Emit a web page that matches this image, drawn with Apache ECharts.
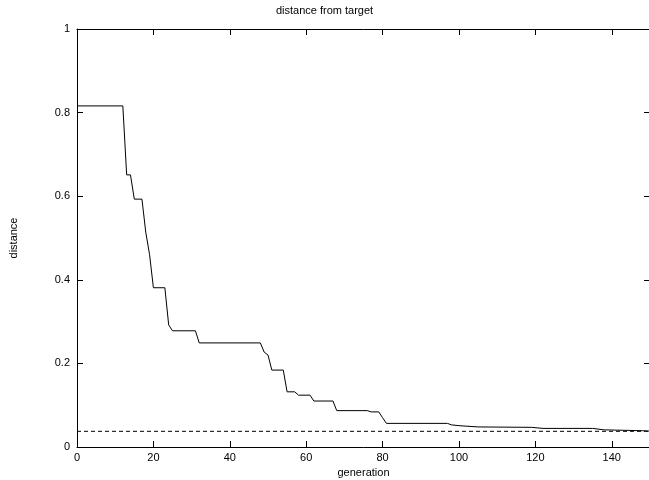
<!DOCTYPE html>
<html>
<head>
<meta charset="utf-8">
<script src="https://cdn.jsdelivr.net/npm/echarts@6/dist/echarts.min.js"></script>
<style>
  html, body { margin: 0; padding: 0; background: #fff; }
  #chart { width: 649px; height: 480px; }
</style>
</head>
<body>
<div id="chart"></div>
<script>
// best distance per generation (breakpoints of the run)
const generations = [0, 12, 13, 14, 15, 17, 18, 19, 20, 23, 24, 25, 31, 32, 48, 49, 50, 51, 54, 55, 57, 58, 61, 62, 67, 68, 76, 77, 79, 80, 81, 97, 98, 100, 105, 119, 122, 135, 138, 148, 150];
const distances   = [0.816, 0.816, 0.651, 0.651, 0.593, 0.593, 0.514, 0.46, 0.381, 0.381, 0.292, 0.278, 0.278, 0.249, 0.249, 0.227, 0.22, 0.184, 0.184, 0.132, 0.132, 0.124, 0.124, 0.11, 0.11, 0.087, 0.087, 0.084, 0.084, 0.07, 0.0565, 0.0565, 0.053, 0.051, 0.048, 0.047, 0.0445, 0.0445, 0.041, 0.039, 0.038];
// target threshold
const threshold = 0.0375;
const yTicks = [0, 0.2, 0.4, 0.6, 0.8, 1];

const font = 'Liberation Sans, Arial, Helvetica, sans-serif';
const black = '#000';

const mainLine = generations.map((g, i) => [g, distances[i]]);
const targetLine = [[0, threshold], [150, threshold]];

const tick = () => ({ show: true, inside: true, length: 6, lineStyle: { color: black, width: 1 } });
const line = () => ({ show: true, onZero: false, lineStyle: { color: black, width: 1 } });

const chart = echarts.init(document.getElementById('chart'), null, { renderer: 'canvas' });
chart.setOption({
  animation: false,
  backgroundColor: '#fff',
  title: {
    text: 'distance from target',
    left: 'center',
    top: 0,
    textStyle: { fontFamily: font, fontSize: 11, fontWeight: 'normal', color: black }
  },
  grid: { left: 77, top: 29, width: 573, height: 418, outerBoundsMode: 'none', containLabel: false },
  xAxis: [
    {
      type: 'value', min: 0, max: 150, interval: 20, position: 'bottom',
      name: 'generation', nameLocation: 'middle', nameGap: 17,
      nameTextStyle: { fontFamily: font, fontSize: 11, color: black },
      axisLine: line(),
      axisTick: tick(),
      axisLabel: { fontFamily: font, fontSize: 11, color: black, margin: 5, showMaxLabel: false },
      splitLine: { show: false }
    },
    {
      type: 'value', min: 0, max: 150, interval: 20, position: 'top',
      axisLine: line(),
      axisTick: tick(),
      axisLabel: { show: false },
      splitLine: { show: false }
    }
  ],
  yAxis: [
    {
      type: 'value', min: 0, max: 1, interval: 0.2, position: 'left',
      name: 'distance', nameLocation: 'middle', nameGap: 58, nameRotate: 90,
      nameTextStyle: { fontFamily: font, fontSize: 11, color: black },
      axisLine: line(),
      axisTick: tick(),
      axisLabel: { fontFamily: font, fontSize: 11, color: black, margin: 7,
                   formatter: v => yTicks.includes(+v.toFixed(1)) ? String(+v.toFixed(1)) : '' },
      splitLine: { show: false }
    },
    {
      type: 'value', min: 0, max: 1, interval: 0.2, position: 'right',
      axisLine: line(),
      axisTick: tick(),
      axisLabel: { show: false },
      splitLine: { show: false }
    }
  ],
  series: [
    {
      type: 'line', xAxisIndex: 0, yAxisIndex: 0,
      data: mainLine, symbol: 'none', silent: true,
      lineStyle: { color: black, width: 1 }
    },
    {
      type: 'line', xAxisIndex: 0, yAxisIndex: 0,
      data: targetLine, symbol: 'none', silent: true,
      lineStyle: { color: black, width: 1, type: [4, 3] }
    }
  ]
});
</script>
</body>
</html>
